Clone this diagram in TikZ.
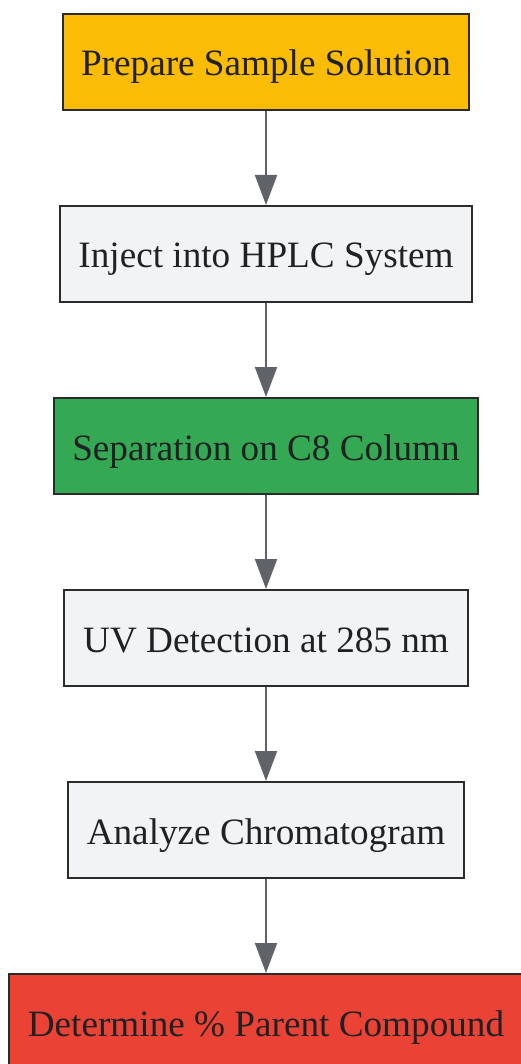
\documentclass[tikz,border=0pt]{standalone}
\usepackage{fontspec}
\setmainfont{Liberation Serif}
\usetikzlibrary{arrows.meta}
\definecolor{amber}{HTML}{FBBC05}
\definecolor{lgray}{HTML}{F1F3F5}
\definecolor{ggreen}{HTML}{34A853}
\definecolor{gred}{HTML}{EA4335}
\definecolor{edge}{HTML}{2B2B2B}
\definecolor{arr}{HTML}{5F6368}
\definecolor{txt}{HTML}{202124}
\tikzset{
  stepbox/.style={draw=edge, line width=2pt, minimum height=96pt, inner sep=0pt,
    text height=36pt, text depth=8pt,
    text=txt, font=\fontsize{37.2}{44}\selectfont},
  flow/.style={draw=arr, line width=2pt, -{Triangle[width=22pt,length=30pt]}}
}
\begin{document}
\begin{tikzpicture}[x=1pt,y=1pt]
\useasboundingbox (0,0) rectangle (520,-1064);
\node[stepbox, fill=amber, minimum width=406pt] (a) at (266,-62) {Prepare Sample Solution};
\node[stepbox, fill=lgray, minimum width=412pt] (b) at (266,-254) {Inject into HPLC System};
\node[stepbox, fill=ggreen, minimum width=424pt] (c) at (266,-446) {Separation on C8 Column};
\node[stepbox, fill=lgray, minimum width=404pt] (d) at (266,-638) {UV Detection at 285 nm};
\node[stepbox, fill=lgray, minimum width=396pt] (e) at (266,-830) {Analyze Chromatogram};
\node[stepbox, fill=gred, minimum width=514pt] (f) at (266,-1022) {Determine \% Parent Compound};
\draw[flow] (a) -- (b);
\draw[flow] (b) -- (c);
\draw[flow] (c) -- (d);
\draw[flow] (d) -- (e);
\draw[flow] (e) -- (f);
\end{tikzpicture}
\end{document}
